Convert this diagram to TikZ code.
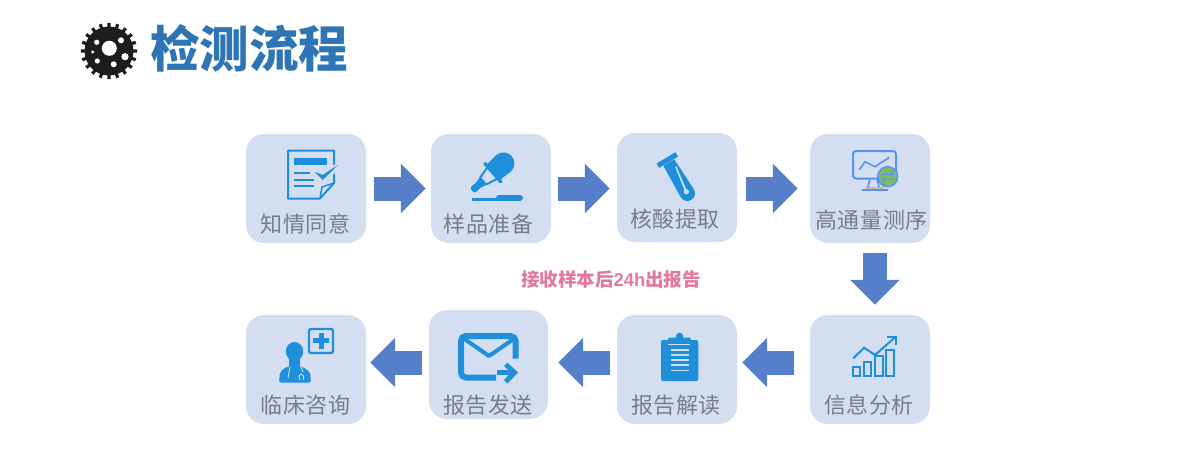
\documentclass[tikz,border=0pt]{standalone}
\usepackage{fontspec}
\setmainfont{Noto Sans CJK SC}
\newfontfamily\latinfont{Liberation Sans}
\usetikzlibrary{arrows.meta}

\definecolor{boxfill}{HTML}{D3DFF0}
\definecolor{arrowblue}{HTML}{567FC9}
\definecolor{iconblue}{HTML}{1F8FDB}
\definecolor{screenblue}{HTML}{5A90EE}
\definecolor{titleblue}{HTML}{2E75B6}
\definecolor{labelgray}{HTML}{767D88}
\definecolor{notepink}{HTML}{E3799B}
\definecolor{gearblack}{HTML}{1E1C1D}
\definecolor{swapgreen}{HTML}{7DBB6C}
\definecolor{standtan}{HTML}{C9BC96}

\tikzset{
    stagebox/.style={fill=boxfill,rounded corners=18pt,minimum width=120pt,minimum height=109pt,inner sep=0pt},
    stagelabel/.style={text=labelgray,inner sep=0pt,font=\fontsize{22}{24}\selectfont\addfontfeature{LetterSpace=2.5}},
    flowarrow/.style={draw=arrowblue,line width=24pt,-{Triangle[length=25pt,width=48pt,fill=arrowblue]}},
    iconline/.style={draw=iconblue,line width=2pt},
    iconfill/.style={fill=iconblue}
}

\begin{document}
\begin{tikzpicture}[x=1pt,y=-1pt]
\useasboundingbox (0,0) rectangle (1186,475);

% title
\fill[gearblack] (109,51) circle [radius=24.5];
\foreach \t in {0,18,...,342}
{
    \fill[gearblack] (109,51) ++(\t:23) -- ++(\t+90:1.6) -- ++(\t:5.2) -- ++(\t-90:3.2) -- ++(\t:-5.2) -- cycle;
}
\foreach \x/\y/\r in {109.3/48.3/7.5,96.7/42.3/2.6,121/40.3/3,92.7/52/1.6,125/56.7/3.6,97.3/61/2.6,113.7/64.3/3}
{
    \fill[white] (\x,\y) circle [radius=\r];
}
\node[text=titleblue,inner sep=0pt,font=\fontsize{49.5}{52}\bfseries\selectfont] (title) at (249,48) {检测流程};

% boxes
\foreach \name/\x/\y/\w/\txt/\lx/\ly in {
    consent/306/188.5/120/知情同意/305.5/224,
    sample/491/188.5/120/样品准备/488.5/224,
    extract/677/187.5/120/核酸提取/675/219,
    seq/870/188.5/120/高通量测序/871.5/220,
    clinic/306/369.5/120/临床咨询/305.5/405,
    send/488.5/364.5/119/报告发送/488/405,
    interp/677/369.5/120/报告解读/676/405,
    analysis/870/369.5/120/信息分析/869/405}
{
    \node[stagebox,minimum width=\w pt] (\name) at (\x,\y) {};
    \node[stagelabel] (\name-label) at (\lx,\ly) {\txt};
}

% connectors
\draw[flowarrow,shorten <=8pt,shorten >=5pt] (consent.east) -- (sample.west);
\draw[flowarrow,shorten <=7pt,shorten >=7pt] (sample.east) -- (sample.east -| extract.west);
\draw[flowarrow,shorten <=9pt,shorten >=12pt] (extract.east |- seq.east) -- (seq.west);
\draw[flowarrow,shorten <=10pt,shorten >=10pt] ([xshift=5pt]seq.south) -- ([xshift=5pt]analysis.north);
\draw[flowarrow,shorten <=16pt,shorten >=5pt] ([yshift=7pt]analysis.west) -- ([yshift=7pt]interp.east);
\draw[flowarrow,shorten <=7pt,shorten >=10pt] ([yshift=7pt]interp.west) -- ([yshift=7pt]interp.west -| send.east);
\draw[flowarrow,shorten <=7pt,shorten >=4pt] ([yshift=7pt]clinic.east -| send.west) -- ([yshift=7pt]clinic.east);

\node[text=notepink,inner sep=0pt,font=\fontsize{18.5}{20}\bfseries\selectfont] (note) at (611,279) {接收样本后{\latinfont 24h}出报告};

% consent icon
\draw[iconline,line join=round] (288,150.5) -- (334,150.5) -- (334,183) -- (320,198.5) -- (288,198.5) -- cycle;
\draw[iconline,line width=1.5pt,line join=round] (320,198.5) -- (322,187) -- (334,183);
\fill[iconfill] (294,158) rectangle (327,165);
\foreach \y/\e in {172.5/310,179.5/314,186/314}
{
    \draw[iconline] (294,\y) -- (\e,\y);
}
\fill[boxfill] (312,170.5) -- (322,172) -- (341,161) -- (341,168) -- (323,183) -- (312,174) -- cycle;
\fill[iconfill] (315,172) -- (322.7,175) -- (338.7,164.3) -- (322.7,180) -- cycle;

% dropper icon
\begin{scope}[shift={(474,189)},rotate=41]
    \fill[iconfill] (25,-10) -- (39,-11) arc [start angle=-90,end angle=90,radius=11] -- (25,10) -- cycle;
    \draw[iconline,line width=3.5pt,line cap=round] (25,-12) -- (25,12);
    \draw[iconline,line join=round] (24,-7.5) -- (12,-4.5) -- (12,4.5) -- (24,7.5);
    \fill[iconfill] (12,-5) -- (12,5) -- (6,3.5) -- (6,-3.5) -- cycle;
    \fill[iconfill,rounded corners=2pt] (-2.5,-3.5) rectangle (8,3.5);
\end{scope}
\draw[iconline,line width=2.6pt] (472,199.5) -- (498,199.5);
\draw[iconline,line width=6pt,line cap=round] (499,198) -- (520,198);

% tube icon
\begin{scope}[shift={(667.3,160)},rotate=-59]
    \draw[iconline,line width=5pt] (0,-11) -- (0,11);
    \fill[iconfill] (3,-6.3) -- (3,6.3) -- (38.8,7.7) arc [start angle=90,end angle=-90,radius=7.7] -- cycle;
    \fill[boxfill] (10,-4.6) -- (36,-1) -- (36,1) -- (10,-3.2) -- cycle;
    \fill[boxfill] (37,0) circle [radius=2.6];
\end{scope}

% sequencer icon
\draw[draw=screenblue,line width=2pt,rounded corners=3pt] (853,151) rectangle (896,178.5);
\draw[draw=screenblue,line width=1.6pt] (859.3,170) -- (865,161.7) -- (875,166.7) -- (889.3,157.3);
\draw[draw=screenblue,line width=1.6pt] (870,178.5) -- (868,187) (877,178.5) -- (879,187);
\fill[fill=screenblue] (862,188.5) rectangle (888,191);
\fill[fill=standtan] (866,186.5) rectangle (884,188.5);
\draw[draw=screenblue,fill=swapgreen,line width=1.5pt] (887.7,176.7) circle [radius=10];
\draw[draw=screenblue,line width=1pt] (881,174.5) -- (894,174.5) -- (890.5,171.5) (894.5,179) -- (881.5,179) -- (885,182);

% analysis icon
\foreach \x/\y/\e in {852.5/366.5/860,863.5/361.5/871,875/355.5/882.5,886/350/893.5}
{
    \draw[iconline] (\x,\y) rectangle (\e,375.5);
}
\draw[iconline] (853.3,358.3) -- (864,347.7) -- (875,355) -- (895.5,337);
\draw[iconline] (887.3,337) -- (896,337) -- (896,345);

% clipboard icon
\fill[iconfill,rounded corners=2pt] (661,340) rectangle (698.3,381);
\fill[iconfill,rounded corners=2pt] (668,337.5) rectangle (691,345);
\fill[iconfill] (679.5,336.5) circle [radius=3.8];
\draw[draw=boxfill,line width=1pt] (668,344.7) -- (690,344.7);
\foreach \y in {350,355,360,365,370.7}
{
    \draw[draw=boxfill,line width=1.2pt] (670.7,\y) -- (689,\y);
}

% envelope icon
\draw[iconline,line width=6pt,rounded corners=5pt] (515.5,358.5) -- (515.5,336) -- (461,336) -- (461,377.5) -- (496,377.5);
\draw[iconline,line width=4pt,line join=round] (463,338) -- (489,356) -- (515,338);
\draw[iconline,line width=5pt] (496.5,372.5) -- (514,372.5);
\fill[iconfill] (504,366) -- (507.5,362.8) -- (518,372.5) -- (507.5,383.5) -- (504,380) -- (511,372.5) -- cycle;

% doctor icon
\draw[iconline,line width=2.2pt,rounded corners=2pt] (309,329) rectangle (333,353);
\fill[iconfill] (318.5,332.5) rectangle (323.5,348.5);
\fill[iconfill] (313,338) rectangle (329,343);
\fill[iconfill] (294.5,351.5) ellipse [x radius=8.7,y radius=9.5];
\fill[iconfill] (289,358) rectangle (300,367);
\fill[iconfill,rounded corners=2pt] (279,382.5) -- (280,372) -- (287,366.5) -- (302,366.5) -- (310,372) -- (311,382.5) -- cycle;
\draw[draw=boxfill,line width=0.9pt] (290,367) -- (288,378);
\draw[draw=boxfill,line width=0.9pt] (301,367) -- (303,372) (300,380) .. controls (296,372) and (306,372) .. (303,380);
\end{tikzpicture}
\end{document}
